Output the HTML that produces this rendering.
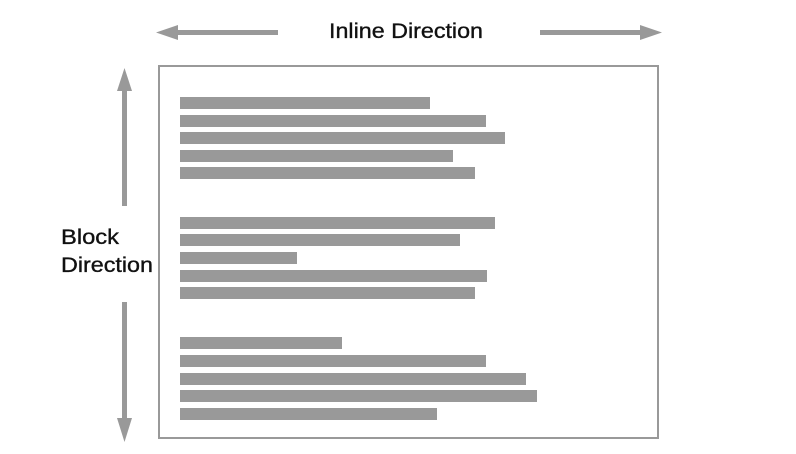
<!DOCTYPE html>
<html><head><style>
html,body{margin:0;padding:0;background:#fff;width:796px;height:454px;overflow:hidden}
svg{display:block}
text{font-family:"Liberation Sans",sans-serif;font-size:21px;fill:#111;stroke:#111;stroke-width:0.35px}
</style></head><body>
<svg width="796" height="454" viewBox="0 0 796 454">
<g fill="#999">
<rect x="170" y="30" width="108" height="5"/>
<polygon points="156,32.5 178,25 178,40"/>
<rect x="540" y="30" width="104" height="5"/>
<polygon points="662,32.5 640,25 640,40"/>
<rect x="122" y="86" width="5" height="120"/>
<polygon points="124.5,68 117,91 132,91"/>
<rect x="122" y="302" width="5" height="120"/>
<polygon points="124.5,442 117,418 132,418"/>
</g>
<rect x="159" y="66" width="499" height="372" fill="none" stroke="#999" stroke-width="2"/>
<g fill="#999">
<rect x="180" y="97" width="250" height="12"/>
<rect x="180" y="115" width="306" height="12"/>
<rect x="180" y="132" width="325" height="12"/>
<rect x="180" y="150" width="273" height="12"/>
<rect x="180" y="167" width="295" height="12"/>
<rect x="180" y="217" width="315" height="12"/>
<rect x="180" y="234" width="280" height="12"/>
<rect x="180" y="252" width="117" height="12"/>
<rect x="180" y="270" width="307" height="12"/>
<rect x="180" y="287" width="295" height="12"/>
<rect x="180" y="337" width="162" height="12"/>
<rect x="180" y="355" width="306" height="12"/>
<rect x="180" y="373" width="346" height="12"/>
<rect x="180" y="390" width="357" height="12"/>
<rect x="180" y="408" width="257" height="12"/>
</g>
<text x="329" y="38" textLength="154" lengthAdjust="spacingAndGlyphs">Inline Direction</text>
<text x="61" y="244" textLength="58" lengthAdjust="spacingAndGlyphs">Block</text>
<text x="61" y="272" textLength="92" lengthAdjust="spacingAndGlyphs">Direction</text>
</svg>
</body></html>
